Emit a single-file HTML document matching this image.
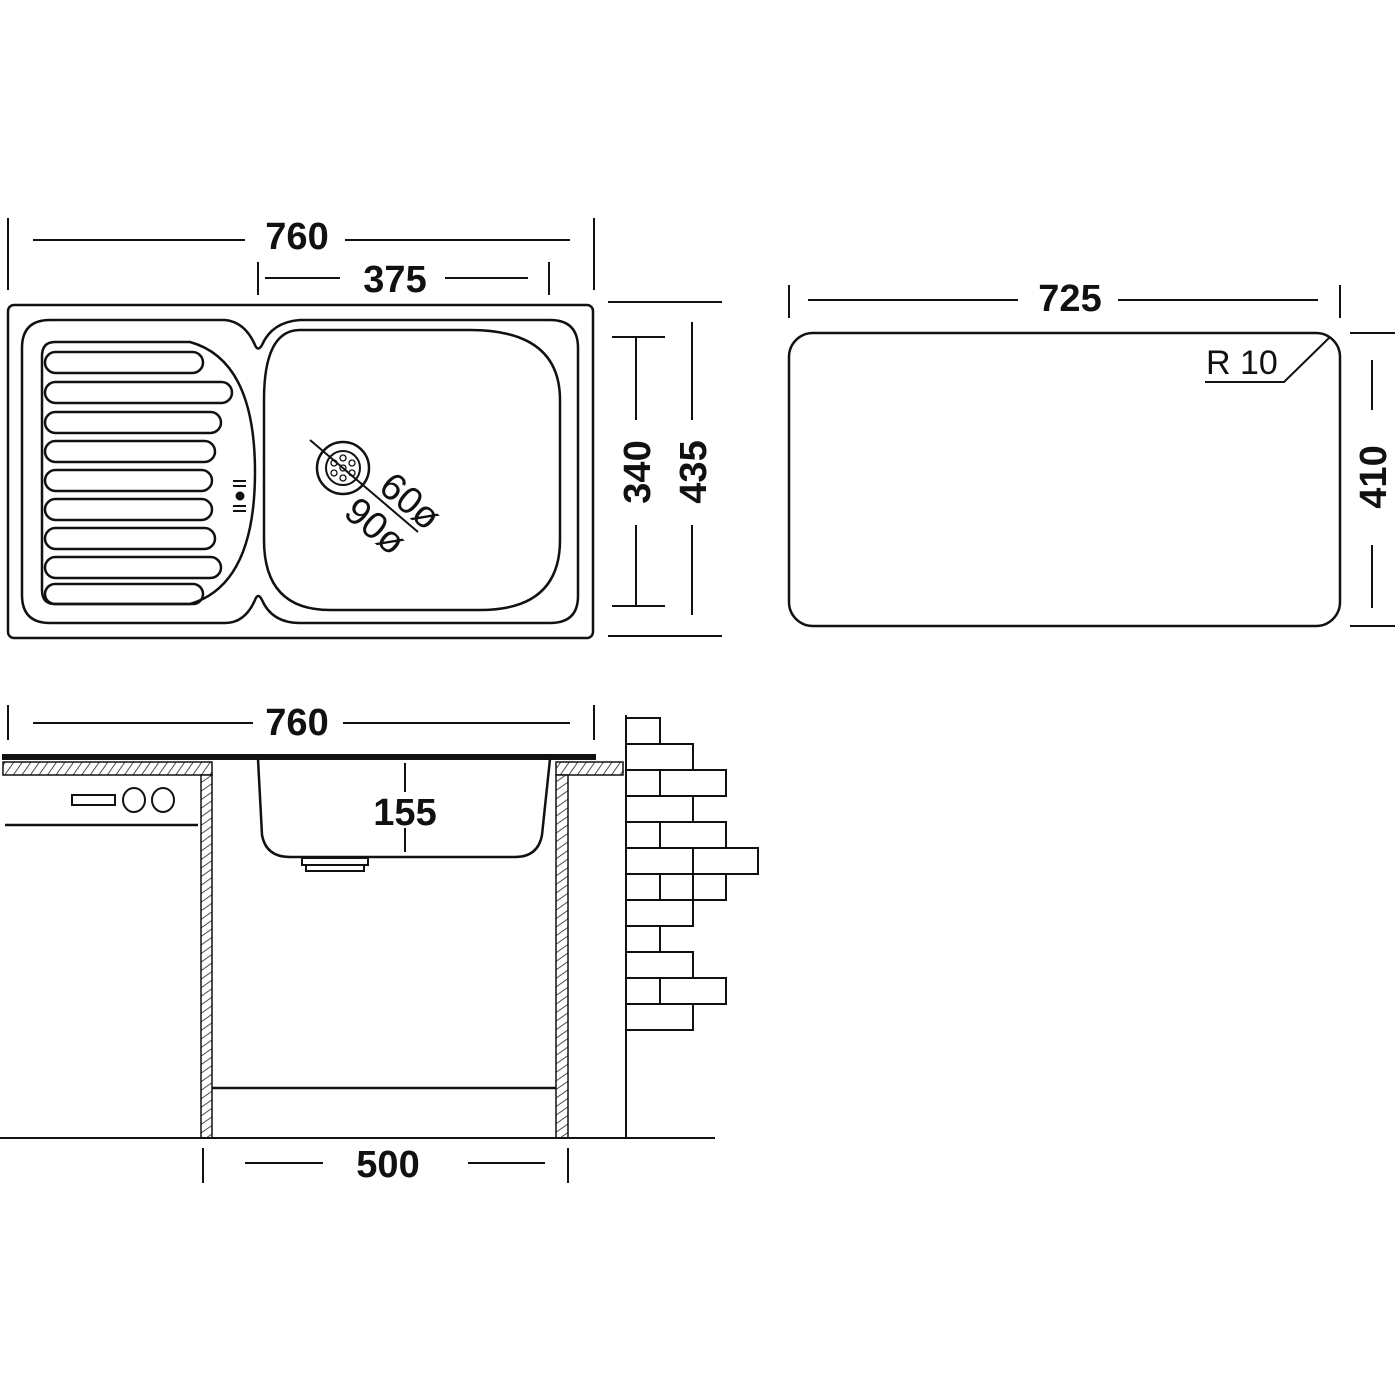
<!DOCTYPE html>
<html><head><meta charset="utf-8"><style>
html,body{margin:0;padding:0;background:#fff;}
svg{display:block}
.d{font-family:"Liberation Sans Narrow","Liberation Sans",sans-serif;font-weight:bold;font-size:38px;fill:#111;text-anchor:middle}
.n{font-family:"Liberation Sans",sans-serif;font-size:34px;fill:#111}
</style></head><body>
<svg width="1400" height="1400" viewBox="0 0 1400 1400" xmlns="http://www.w3.org/2000/svg">
<defs>
<pattern id="h" width="7" height="7" patternUnits="userSpaceOnUse" patternTransform="rotate(35)">
<rect width="7" height="7" fill="#fff"/><line x1="0" y1="0" x2="0" y2="7" stroke="#222" stroke-width="1.6"/>
</pattern>
<pattern id="hv" width="7" height="7" patternUnits="userSpaceOnUse" patternTransform="rotate(-35)">
<rect width="7" height="7" fill="#fff"/><line x1="0" y1="0" x2="7" y2="0" stroke="#222" stroke-width="1.6"/>
</pattern>
</defs>
<g stroke="#111" fill="none" stroke-width="2">
<line x1="8" y1="218" x2="8" y2="290"/><line x1="594" y1="218" x2="594" y2="290"/>
<line x1="33" y1="240" x2="245" y2="240"/><line x1="345" y1="240" x2="570" y2="240"/>
<line x1="258" y1="262" x2="258" y2="295"/><line x1="549" y1="262" x2="549" y2="295"/>
<line x1="265" y1="278" x2="340" y2="278"/><line x1="445" y1="278" x2="528" y2="278"/>
<line x1="608" y1="302" x2="722" y2="302"/><line x1="608" y1="636" x2="722" y2="636"/>
<line x1="612" y1="337" x2="665" y2="337"/><line x1="612" y1="606" x2="665" y2="606"/>
<line x1="636" y1="337" x2="636" y2="420"/><line x1="636" y1="525" x2="636" y2="606"/>
<line x1="692" y1="322" x2="692" y2="420"/><line x1="692" y1="525" x2="692" y2="615"/>
<rect x="8" y="305" width="585" height="333" rx="6" stroke-width="2.5"/>
<path d="M50 320 H225 Q245 322 255 345 Q258 352 262 345 Q272 322 300 320 H550 Q578 320 578 348 V596 Q578 623 550 623 H300 Q272 623 262 600 Q258 592 255 600 Q245 623 225 623 H50 Q22 623 22 595 V348 Q22 320 50 320 Z" stroke-width="2.5"/>
<path d="M55 342 H190 Q255 360 255 472 Q255 585 190 604 H55 Q42 604 42 590 V356 Q42 342 55 342 Z" stroke-width="2.5"/>
<path d="M300 330 H470 Q560 330 560 400 V540 Q560 610 480 610 H330 Q264 610 264 540 V400 Q264 330 300 330 Z" stroke-width="2.5"/>
<g stroke-width="2.5">
<rect x="45" y="352" width="158" height="21" rx="10.5"/>
<rect x="45" y="382" width="187" height="21" rx="10.5"/>
<rect x="45" y="412" width="176" height="21" rx="10.5"/>
<rect x="45" y="441" width="170" height="21" rx="10.5"/>
<rect x="45" y="470" width="167" height="21" rx="10.5"/>
<rect x="45" y="499" width="167" height="21" rx="10.5"/>
<rect x="45" y="528" width="170" height="21" rx="10.5"/>
<rect x="45" y="557" width="176" height="21" rx="10.5"/>
<rect x="45" y="584" width="158" height="20" rx="10"/>
</g>
<circle cx="240" cy="496" r="3.5" fill="#111"/>
<line x1="233" y1="481" x2="246" y2="481"/><line x1="233" y1="486" x2="246" y2="486"/>
<line x1="233" y1="506" x2="246" y2="506"/><line x1="233" y1="511" x2="246" y2="511"/>
<circle cx="343" cy="468" r="26" stroke-width="2.5"/><circle cx="343" cy="468" r="17"/>
<g stroke-width="1.3"><circle cx="343" cy="458" r="3"/><circle cx="352" cy="463" r="3"/><circle cx="352" cy="473" r="3"/><circle cx="343" cy="478" r="3"/><circle cx="334" cy="473" r="3"/><circle cx="334" cy="463" r="3"/><circle cx="343" cy="468" r="3"/></g>
<line x1="310" y1="440" x2="418" y2="532"/>
<line x1="789" y1="285" x2="789" y2="318"/><line x1="1340" y1="285" x2="1340" y2="318"/>
<line x1="808" y1="300" x2="1018" y2="300"/><line x1="1118" y1="300" x2="1318" y2="300"/>
<rect x="789" y="333" width="551" height="293" rx="24" stroke-width="2.5"/>
<path d="M1205 382 H1284 L1330 337"/>
<line x1="1350" y1="333" x2="1395" y2="333"/><line x1="1350" y1="626" x2="1395" y2="626"/>
<line x1="1372" y1="360" x2="1372" y2="410"/><line x1="1372" y1="545" x2="1372" y2="608"/>
<line x1="8" y1="705" x2="8" y2="740"/><line x1="594" y1="705" x2="594" y2="740"/>
<line x1="33" y1="723" x2="253" y2="723"/><line x1="343" y1="723" x2="570" y2="723"/>
<rect x="3" y="755" width="592" height="4" fill="#111"/>
<rect x="3" y="762" width="209" height="13" fill="url(#h)" stroke-width="1.5"/>
<rect x="556" y="762" width="67" height="13" fill="url(#h)" stroke-width="1.5"/>
<rect x="201" y="775" width="11" height="363" fill="url(#hv)" stroke-width="1.5"/>
<rect x="556" y="775" width="12" height="363" fill="url(#hv)" stroke-width="1.5"/>
<path d="M258 759 L262 835 Q266 857 290 857 H515 Q538 857 542 835 L550 759" stroke-width="2.5"/>
<rect x="302" y="858" width="66" height="7"/><rect x="306" y="865" width="58" height="6"/>
<line x1="405" y1="763" x2="405" y2="792"/><line x1="405" y1="828" x2="405" y2="852"/>
<line x1="5" y1="825" x2="198" y2="825" stroke-width="2.5"/>
<rect x="72" y="795" width="43" height="10"/>
<ellipse cx="134" cy="800" rx="11" ry="12"/><ellipse cx="163" cy="800" rx="11" ry="12"/>
<line x1="212" y1="1088" x2="556" y2="1088" stroke-width="2.5"/>
<line x1="0" y1="1138" x2="715" y2="1138"/>
<line x1="626" y1="715" x2="626" y2="1138"/>
<g stroke-width="2">
<rect x="626" y="718" width="34" height="26"/>
<rect x="626" y="744" width="67" height="26"/>
<rect x="626" y="770" width="34" height="26"/><rect x="660" y="770" width="66" height="26"/>
<rect x="626" y="796" width="67" height="26"/>
<rect x="626" y="822" width="34" height="26"/><rect x="660" y="822" width="66" height="26"/>
<rect x="626" y="848" width="67" height="26"/><rect x="693" y="848" width="65" height="26"/>
<rect x="626" y="874" width="34" height="26"/><rect x="660" y="874" width="33" height="26"/><rect x="693" y="874" width="33" height="26"/>
<rect x="626" y="900" width="67" height="26"/>
<rect x="626" y="926" width="34" height="26"/>
<rect x="626" y="952" width="67" height="26"/>
<rect x="626" y="978" width="34" height="26"/><rect x="660" y="978" width="66" height="26"/>
<rect x="626" y="1004" width="67" height="26"/>
</g>
<line x1="203" y1="1148" x2="203" y2="1183"/><line x1="568" y1="1148" x2="568" y2="1183"/>
<line x1="245" y1="1163" x2="323" y2="1163"/><line x1="468" y1="1163" x2="545" y2="1163"/>
</g>
<text class="d" x="297" y="249">760</text>
<text class="d" x="395" y="292">375</text>
<text class="d" transform="translate(650,472) rotate(-90)">340</text>
<text class="d" transform="translate(706,472) rotate(-90)">435</text>
<text class="d" x="1070" y="311">725</text>
<text class="n" x="1206" y="374">R 10</text>
<text class="d" transform="translate(1386,477) rotate(-90)">410</text>
<text class="d" x="297" y="735">760</text>
<text class="d" x="405" y="825">155</text>
<text class="d" x="388" y="1177">500</text>
<text class="n" style="font-size:38px" transform="translate(377,490) rotate(40)">60ø</text>
<text class="n" style="font-size:38px" transform="translate(342,515) rotate(40)">90ø</text>
</svg>
</body></html>
